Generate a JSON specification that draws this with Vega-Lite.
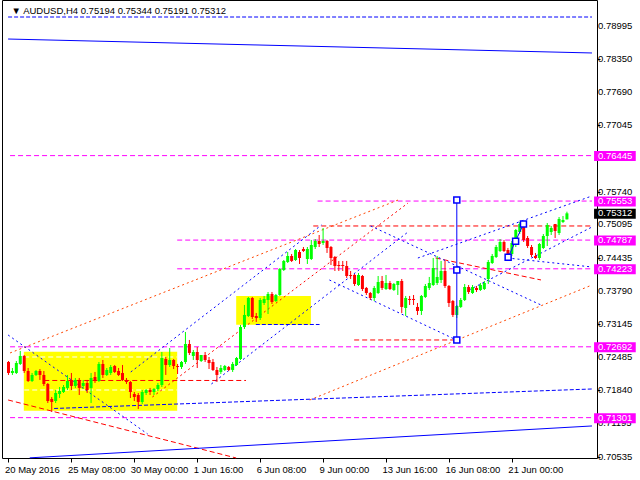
{
"$schema": "https://vega.github.io/schema/vega-lite/v6.json",
"autosize": {"type": "none"},
"width": 595, "height": 458,
"padding": {"left": 2, "top": 0, "right": 43, "bottom": 22},
"background": "white",
"config": {
 "view": {"stroke": "black", "strokeWidth": 1},
 "font": "Liberation Sans",
 "axisX": {"title": null, "labelAlign": "left", "labelBaseline": "top", "labelPadding": 2, "labelOffset": -4, "tickSize": 4, "tickColor": "black", "domain": false, "grid": false, "labelFont": "Liberation Sans", "labelFontSize": 9.5, "labelColor": "black", "labelFlush": false, "labelOverlap": false, "labelBound": false},
 "axisY": {"title": null, "tickSize": 3, "tickColor": "black", "domain": false, "grid": false, "labels": false}
},
"datasets": {
"candles": [
{"i":0,"o":0.72394,"h":0.72413,"l":0.72139,"c":0.72178},
{"i":1,"o":0.72178,"h":0.72276,"l":0.72139,"c":0.72217},
{"i":2,"o":0.72178,"h":0.72413,"l":0.72158,"c":0.72374},
{"i":3,"o":0.72355,"h":0.72610,"l":0.72335,"c":0.72512},
{"i":4,"o":0.72512,"h":0.72531,"l":0.72178,"c":0.72217},
{"i":5,"o":0.72217,"h":0.72276,"l":0.72001,"c":0.72021},
{"i":6,"o":0.72021,"h":0.72178,"l":0.72001,"c":0.72139},
{"i":7,"o":0.72139,"h":0.72237,"l":0.72119,"c":0.72217},
{"i":8,"o":0.72217,"h":0.72256,"l":0.72041,"c":0.72139},
{"i":9,"o":0.72139,"h":0.72217,"l":0.71923,"c":0.71962},
{"i":10,"o":0.71962,"h":0.71982,"l":0.71589,"c":0.71628},
{"i":11,"o":0.71668,"h":0.71707,"l":0.71412,"c":0.71609},
{"i":12,"o":0.71628,"h":0.71844,"l":0.71589,"c":0.71785},
{"i":13,"o":0.71766,"h":0.71903,"l":0.71687,"c":0.71825},
{"i":14,"o":0.71805,"h":0.71942,"l":0.71785,"c":0.71903},
{"i":15,"o":0.71884,"h":0.72139,"l":0.71844,"c":0.72021},
{"i":16,"o":0.72021,"h":0.72178,"l":0.71844,"c":0.71923},
{"i":17,"o":0.71923,"h":0.72080,"l":0.71884,"c":0.72041},
{"i":18,"o":0.72041,"h":0.72080,"l":0.71746,"c":0.71884},
{"i":19,"o":0.71923,"h":0.72041,"l":0.71864,"c":0.71982},
{"i":20,"o":0.71982,"h":0.72041,"l":0.71785,"c":0.71844},
{"i":21,"o":0.71884,"h":0.72178,"l":0.71589,"c":0.72080},
{"i":22,"o":0.72099,"h":0.72198,"l":0.71982,"c":0.72021},
{"i":23,"o":0.72021,"h":0.72394,"l":0.72001,"c":0.72355},
{"i":24,"o":0.72355,"h":0.72433,"l":0.72080,"c":0.72139},
{"i":25,"o":0.72139,"h":0.72276,"l":0.72119,"c":0.72237},
{"i":26,"o":0.72178,"h":0.72335,"l":0.72139,"c":0.72296},
{"i":27,"o":0.72315,"h":0.72335,"l":0.72178,"c":0.72198},
{"i":28,"o":0.72217,"h":0.72276,"l":0.72119,"c":0.72139},
{"i":29,"o":0.72178,"h":0.72335,"l":0.72021,"c":0.72041},
{"i":30,"o":0.72041,"h":0.72080,"l":0.71962,"c":0.72001},
{"i":31,"o":0.72001,"h":0.72021,"l":0.71687,"c":0.71805},
{"i":32,"o":0.71766,"h":0.71805,"l":0.71628,"c":0.71707},
{"i":33,"o":0.71746,"h":0.71785,"l":0.71471,"c":0.71609},
{"i":34,"o":0.71609,"h":0.71844,"l":0.71570,"c":0.71805},
{"i":35,"o":0.71785,"h":0.71864,"l":0.71746,"c":0.71844},
{"i":36,"o":0.71844,"h":0.71884,"l":0.71746,"c":0.71805},
{"i":37,"o":0.71805,"h":0.71884,"l":0.71746,"c":0.71864},
{"i":38,"o":0.71864,"h":0.71982,"l":0.71825,"c":0.71942},
{"i":39,"o":0.71942,"h":0.72590,"l":0.71903,"c":0.72472},
{"i":40,"o":0.72453,"h":0.72492,"l":0.72139,"c":0.72335},
{"i":41,"o":0.72335,"h":0.72669,"l":0.72296,"c":0.72433},
{"i":42,"o":0.72433,"h":0.72453,"l":0.72256,"c":0.72315},
{"i":43,"o":0.72315,"h":0.72355,"l":0.72158,"c":0.72296},
{"i":44,"o":0.72296,"h":0.72413,"l":0.72256,"c":0.72394},
{"i":45,"o":0.72394,"h":0.72983,"l":0.72355,"c":0.72747},
{"i":46,"o":0.72747,"h":0.72826,"l":0.72531,"c":0.72571},
{"i":47,"o":0.72512,"h":0.72629,"l":0.72433,"c":0.72590},
{"i":48,"o":0.72590,"h":0.72688,"l":0.72276,"c":0.72433},
{"i":49,"o":0.72413,"h":0.72531,"l":0.72394,"c":0.72531},
{"i":50,"o":0.72531,"h":0.72590,"l":0.72394,"c":0.72433},
{"i":51,"o":0.72433,"h":0.72492,"l":0.72256,"c":0.72374},
{"i":52,"o":0.72394,"h":0.72453,"l":0.72217,"c":0.72237},
{"i":53,"o":0.72237,"h":0.72296,"l":0.72001,"c":0.72139},
{"i":54,"o":0.72198,"h":0.72335,"l":0.72158,"c":0.72276},
{"i":55,"o":0.72237,"h":0.72335,"l":0.72217,"c":0.72315},
{"i":56,"o":0.72296,"h":0.72315,"l":0.72217,"c":0.72237},
{"i":57,"o":0.72237,"h":0.72394,"l":0.72198,"c":0.72355},
{"i":58,"o":0.72335,"h":0.72492,"l":0.72315,"c":0.72472},
{"i":59,"o":0.72453,"h":0.73120,"l":0.72433,"c":0.73081},
{"i":60,"o":0.73081,"h":0.73513,"l":0.73042,"c":0.73317},
{"i":61,"o":0.73297,"h":0.73670,"l":0.73277,"c":0.73650},
{"i":62,"o":0.73650,"h":0.73670,"l":0.73238,"c":0.73277},
{"i":63,"o":0.73297,"h":0.73356,"l":0.73179,"c":0.73258},
{"i":64,"o":0.73258,"h":0.73650,"l":0.73218,"c":0.73611},
{"i":65,"o":0.73552,"h":0.73690,"l":0.73513,"c":0.73631},
{"i":66,"o":0.73611,"h":0.73768,"l":0.73336,"c":0.73729},
{"i":67,"o":0.73729,"h":0.73768,"l":0.73532,"c":0.73572},
{"i":68,"o":0.73591,"h":0.73729,"l":0.73572,"c":0.73709},
{"i":69,"o":0.73709,"h":0.74239,"l":0.73690,"c":0.74220},
{"i":70,"o":0.74200,"h":0.74396,"l":0.74180,"c":0.74377},
{"i":71,"o":0.74357,"h":0.74553,"l":0.74337,"c":0.74475},
{"i":72,"o":0.74475,"h":0.74514,"l":0.74357,"c":0.74377},
{"i":73,"o":0.74396,"h":0.74612,"l":0.74377,"c":0.74592},
{"i":74,"o":0.74553,"h":0.74592,"l":0.74318,"c":0.74435},
{"i":75,"o":0.74612,"h":0.74651,"l":0.74553,"c":0.74573},
{"i":76,"o":0.74416,"h":0.74651,"l":0.74318,"c":0.74612},
{"i":77,"o":0.74416,"h":0.74789,"l":0.74396,"c":0.74691},
{"i":78,"o":0.74651,"h":0.74808,"l":0.74612,"c":0.74769},
{"i":79,"o":0.74769,"h":0.74887,"l":0.74651,"c":0.74710},
{"i":80,"o":0.74730,"h":0.75024,"l":0.74691,"c":0.74769},
{"i":81,"o":0.74769,"h":0.74789,"l":0.74534,"c":0.74632},
{"i":82,"o":0.74651,"h":0.74671,"l":0.74298,"c":0.74435},
{"i":83,"o":0.74455,"h":0.74475,"l":0.74180,"c":0.74278},
{"i":84,"o":0.74298,"h":0.74377,"l":0.74180,"c":0.74278},
{"i":85,"o":0.74298,"h":0.74377,"l":0.74180,"c":0.74278},
{"i":86,"o":0.74278,"h":0.74377,"l":0.74043,"c":0.74082},
{"i":87,"o":0.74102,"h":0.74180,"l":0.74023,"c":0.74082},
{"i":88,"o":0.74102,"h":0.74121,"l":0.73886,"c":0.73925},
{"i":89,"o":0.73905,"h":0.74141,"l":0.73886,"c":0.74102},
{"i":90,"o":0.74082,"h":0.74102,"l":0.73788,"c":0.73827},
{"i":91,"o":0.73847,"h":0.73866,"l":0.73709,"c":0.73748},
{"i":92,"o":0.73748,"h":0.73768,"l":0.73611,"c":0.73650},
{"i":93,"o":0.73650,"h":0.73886,"l":0.73591,"c":0.73847},
{"i":94,"o":0.73748,"h":0.74082,"l":0.73729,"c":0.73964},
{"i":95,"o":0.73984,"h":0.74082,"l":0.73807,"c":0.73847},
{"i":96,"o":0.73827,"h":0.74102,"l":0.73807,"c":0.73945},
{"i":97,"o":0.73945,"h":0.73984,"l":0.73807,"c":0.73827},
{"i":98,"o":0.73807,"h":0.73945,"l":0.73788,"c":0.73925},
{"i":99,"o":0.73905,"h":0.73984,"l":0.73709,"c":0.73984},
{"i":100,"o":0.73984,"h":0.74023,"l":0.73356,"c":0.73474},
{"i":101,"o":0.73454,"h":0.73690,"l":0.73297,"c":0.73650},
{"i":102,"o":0.73631,"h":0.73690,"l":0.73513,"c":0.73611},
{"i":103,"o":0.73631,"h":0.73709,"l":0.73513,"c":0.73611},
{"i":104,"o":0.73474,"h":0.73552,"l":0.73317,"c":0.73395},
{"i":105,"o":0.73395,"h":0.73709,"l":0.73317,"c":0.73690},
{"i":106,"o":0.73670,"h":0.73925,"l":0.73650,"c":0.73886},
{"i":107,"o":0.73847,"h":0.74063,"l":0.73807,"c":0.73945},
{"i":108,"o":0.73905,"h":0.74435,"l":0.73886,"c":0.74239},
{"i":109,"o":0.73945,"h":0.74475,"l":0.73905,"c":0.74063},
{"i":110,"o":0.74004,"h":0.74377,"l":0.73945,"c":0.74180},
{"i":111,"o":0.74180,"h":0.74377,"l":0.73847,"c":0.73886},
{"i":112,"o":0.73886,"h":0.73905,"l":0.73474,"c":0.73552},
{"i":113,"o":0.73591,"h":0.73611,"l":0.73277,"c":0.73317},
{"i":114,"o":0.73317,"h":0.73513,"l":0.73258,"c":0.73493},
{"i":115,"o":0.73474,"h":0.73650,"l":0.73454,"c":0.73611},
{"i":116,"o":0.73611,"h":0.73925,"l":0.73591,"c":0.73866},
{"i":117,"o":0.73866,"h":0.73905,"l":0.73729,"c":0.73768},
{"i":118,"o":0.73748,"h":0.73905,"l":0.73729,"c":0.73866},
{"i":119,"o":0.73847,"h":0.73886,"l":0.73768,"c":0.73807},
{"i":120,"o":0.73807,"h":0.73945,"l":0.73788,"c":0.73905},
{"i":121,"o":0.73827,"h":0.73984,"l":0.73807,"c":0.73945},
{"i":122,"o":0.74023,"h":0.74396,"l":0.73925,"c":0.74357},
{"i":123,"o":0.74337,"h":0.74514,"l":0.74318,"c":0.74475},
{"i":124,"o":0.74455,"h":0.74691,"l":0.74435,"c":0.74651},
{"i":125,"o":0.74573,"h":0.74808,"l":0.74553,"c":0.74749},
{"i":126,"o":0.74749,"h":0.74789,"l":0.74553,"c":0.74573},
{"i":127,"o":0.74592,"h":0.74632,"l":0.74475,"c":0.74494},
{"i":128,"o":0.74514,"h":0.74769,"l":0.74475,"c":0.74730},
{"i":129,"o":0.74691,"h":0.75005,"l":0.74651,"c":0.74985},
{"i":130,"o":0.74946,"h":0.75142,"l":0.74906,"c":0.75103},
{"i":131,"o":0.75064,"h":0.75142,"l":0.74749,"c":0.74789},
{"i":132,"o":0.74828,"h":0.74867,"l":0.74632,"c":0.74671},
{"i":133,"o":0.74651,"h":0.74691,"l":0.74455,"c":0.74494},
{"i":134,"o":0.74475,"h":0.74534,"l":0.74416,"c":0.74435},
{"i":135,"o":0.74435,"h":0.74730,"l":0.74396,"c":0.74710},
{"i":136,"o":0.74632,"h":0.74906,"l":0.74612,"c":0.74867},
{"i":137,"o":0.74867,"h":0.75122,"l":0.74671,"c":0.75083},
{"i":138,"o":0.74946,"h":0.75064,"l":0.74887,"c":0.75024},
{"i":139,"o":0.75103,"h":0.75103,"l":0.74828,"c":0.74965},
{"i":140,"o":0.74926,"h":0.75240,"l":0.74887,"c":0.75201},
{"i":141,"o":0.75142,"h":0.75260,"l":0.75122,"c":0.75181},
{"i":142,"o":0.75194,"h":0.75344,"l":0.75191,"c":0.75312}
],
"rects": [
{"i0":3.9,"p0":0.72596,"i1":42.9,"p1":0.71438},
{"i0":57.9,"p0":0.7369,"i1":76.9,"p1":0.73126}
],
"segs": [
{"k":"white","i0":4.0,"p0":0.72492,"i1":42.8,"p1":0.72492},
{"k":"white","i0":4.0,"p0":0.71844,"i1":42.8,"p1":0.71844},
{"k":"mag","i0":0.4,"p0":0.76445,"i1":148.375,"p1":0.76445},
{"k":"mag","i0":78.6,"p0":0.75553,"i1":148.375,"p1":0.75553},
{"k":"mag","i0":42.9,"p0":0.74787,"i1":148.375,"p1":0.74787},
{"k":"mag","i0":42.9,"p0":0.74223,"i1":148.375,"p1":0.74223},
{"k":"mag","i0":0.4,"p0":0.72692,"i1":148.375,"p1":0.72692},
{"k":"mag","i0":0.4,"p0":0.71301,"i1":148.375,"p1":0.71301},
{"k":"red","i0":77.5,"p0":0.75064,"i1":148.375,"p1":0.75064},
{"k":"red","i0":87.9,"p0":0.72826,"i1":114.1,"p1":0.72826},
{"k":"red","i0":9.1,"p0":0.72031,"i1":60.4,"p1":0.72031},
{"k":"red","i0":-0.1,"p0":0.71648,"i1":57.9,"p1":0.70509},
{"k":"red","i0":108.6,"p0":0.74435,"i1":135.4,"p1":0.74004},
{"k":"redDot","i0":36.6,"p0":0.71707,"i1":101.6,"p1":0.75515},
{"k":"orange","i0":0.4,"p0":0.72571,"i1":99.1,"p1":0.75574},
{"k":"orange","i0":76.6,"p0":0.71648,"i1":148.375,"p1":0.73905},
{"k":"blueDash","i0":-0.1,"p0":0.79166,"i1":148.375,"p1":0.79166},
{"k":"blueDash","i0":62.9,"p0":0.7313,"i1":79.1,"p1":0.7313},
{"k":"blueDash","i0":11.6,"p0":0.71481,"i1":148.375,"p1":0.71864},
{"k":"blueDot","i0":-0.1,"p0":0.72924,"i1":35.4,"p1":0.70979},
{"k":"blueDot","i0":31.1,"p0":0.72198,"i1":79.6,"p1":0.75083},
{"k":"blueDot","i0":51.6,"p0":0.71962,"i1":101.6,"p1":0.74946},
{"k":"blueDot","i0":92.1,"p0":0.75064,"i1":135.4,"p1":0.73513},
{"k":"blueDot","i0":81.6,"p0":0.74004,"i1":113.9,"p1":0.72826},
{"k":"blueDot","i0":104.1,"p0":0.74435,"i1":148.375,"p1":0.75653},
{"k":"blueDot","i0":117.1,"p0":0.73807,"i1":148.375,"p1":0.75044},
{"k":"blueDot","i0":126.9,"p0":0.74435,"i1":148.375,"p1":0.74259},
{"k":"blueSolid","i0":-0.1,"p0":0.78734,"i1":148.375,"p1":0.7846},
{"k":"blueSolid","i0":5.4,"p0":0.70512,"i1":148.375,"p1":0.71138},
{"k":"blueSolid","i0":114,"p0":0.75574,"i1":114,"p1":0.72826},
{"k":"blueSolid","i0":127.05,"p0":0.74449,"i1":130.95,"p1":0.75103}
],
"squares": [
{"i":114,"p":0.75574},{"i":114,"p":0.742},{"i":114,"p":0.72826},
{"i":127.05,"p":0.74449},{"i":128.95,"p":0.74763},{"i":130.95,"p":0.75103}
],
"yticks": [
{"p":0.70535},{"p":0.71195},{"p":0.7184},{"p":0.72485},{"p":0.73145},{"p":0.7379},{"p":0.74435},
{"p":0.75095},{"p":0.7574},{"p":0.7639},{"p":0.77045},{"p":0.7769},{"p":0.7835},{"p":0.78995}
],
"badges": [
{"p":0.76445,"t":"level"},{"p":0.75553,"t":"level"},{"p":0.75312,"t":"bid"},
{"p":0.74787,"t":"level"},{"p":0.74223,"t":"level"},{"p":0.72692,"t":"level"},{"p":0.71301,"t":"level"}
],
"head": [
{"label":"▼ AUDUSD,H4  0.75194 0.75344 0.75191 0.75312","i":0.8,"p":0.79225}
]
},
"layer": [
{"data": {"name": "rects"}, "mark": {"type": "rect", "color": "#ffff00"},
 "encoding": {
  "x": {"field": "i0", "type": "quantitative", "scale": {"domain": [-0.375, 148.375], "nice": false, "zero": false},
        "axis": {"values": [0,16,32,48,64,80,96,112,128], "labelExpr": "['20 May 2016','25 May 08:00','30 May 00:00','1 Jun 16:00','6 Jun 08:00','9 Jun 00:00','13 Jun 16:00','16 Jun 08:00','21 Jun 00:00'][round(datum.value/16)]"}},
  "x2": {"field": "i1"},
  "y": {"field": "p0", "type": "quantitative", "scale": {"domain": [0.70509, 0.795], "nice": false, "zero": false},
        "axis": {"orient": "right", "values": [0.70535,0.71195,0.7184,0.72485,0.73145,0.7379,0.74435,0.75095,0.7574,0.7639,0.77045,0.7769,0.7835,0.78995], "labels": false}},
  "y2": {"field": "p1"}
 }},
{"data": {"name": "segs"}, "transform": [{"filter": "datum.k == 'white'"}], "mark": {"type": "rule", "color": "white", "strokeWidth": 1, "strokeDash": [5, 3]},
 "encoding": {"x": {"field": "i0", "type": "quantitative"}, "x2": {"field": "i1"}, "y": {"field": "p0", "type": "quantitative"}, "y2": {"field": "p1"}}},
{"data": {"name": "segs"}, "transform": [{"filter": "datum.k == 'mag'"}], "mark": {"type": "rule", "color": "#ff00ff", "strokeWidth": 1, "strokeDash": [5, 3]},
 "encoding": {"x": {"field": "i0", "type": "quantitative"}, "x2": {"field": "i1"}, "y": {"field": "p0", "type": "quantitative"}, "y2": {"field": "p1"}}},
{"data": {"name": "segs"}, "transform": [{"filter": "datum.k == 'red'"}], "mark": {"type": "rule", "color": "#ff0000", "strokeWidth": 1, "strokeDash": [5, 3]},
 "encoding": {"x": {"field": "i0", "type": "quantitative"}, "x2": {"field": "i1"}, "y": {"field": "p0", "type": "quantitative"}, "y2": {"field": "p1"}}},
{"data": {"name": "segs"}, "transform": [{"filter": "datum.k == 'redDot'"}], "mark": {"type": "rule", "color": "#ff0000", "strokeWidth": 1, "strokeDash": [2, 3]},
 "encoding": {"x": {"field": "i0", "type": "quantitative"}, "x2": {"field": "i1"}, "y": {"field": "p0", "type": "quantitative"}, "y2": {"field": "p1"}}},
{"data": {"name": "segs"}, "transform": [{"filter": "datum.k == 'orange'"}], "mark": {"type": "rule", "color": "#ff4500", "strokeWidth": 1, "strokeDash": [2, 3]},
 "encoding": {"x": {"field": "i0", "type": "quantitative"}, "x2": {"field": "i1"}, "y": {"field": "p0", "type": "quantitative"}, "y2": {"field": "p1"}}},
{"data": {"name": "segs"}, "transform": [{"filter": "datum.k == 'blueDash'"}], "mark": {"type": "rule", "color": "#0000ff", "strokeWidth": 1, "strokeDash": [4, 2]},
 "encoding": {"x": {"field": "i0", "type": "quantitative"}, "x2": {"field": "i1"}, "y": {"field": "p0", "type": "quantitative"}, "y2": {"field": "p1"}}},
{"data": {"name": "segs"}, "transform": [{"filter": "datum.k == 'blueDot'"}], "mark": {"type": "rule", "color": "#0000ff", "strokeWidth": 1, "strokeDash": [2, 3]},
 "encoding": {"x": {"field": "i0", "type": "quantitative"}, "x2": {"field": "i1"}, "y": {"field": "p0", "type": "quantitative"}, "y2": {"field": "p1"}}},
{"data": {"name": "candles"}, "mark": {"type": "rule", "strokeWidth": 1},
 "encoding": {"x": {"field": "i", "type": "quantitative"}, "y": {"field": "l", "type": "quantitative"}, "y2": {"field": "h"},
  "color": {"condition": {"test": "datum.c >= datum.o", "value": "#00ff00"}, "value": "#ff0000"}}},
{"data": {"name": "candles"}, "mark": {"type": "bar", "size": 3},
 "encoding": {"x": {"field": "i", "type": "quantitative"}, "y": {"field": "o", "type": "quantitative"}, "y2": {"field": "c"},
  "color": {"condition": {"test": "datum.c >= datum.o", "value": "#00ff00"}, "value": "#ff0000"}}},
{"data": {"name": "segs"}, "transform": [{"filter": "datum.k == 'blueSolid'"}], "mark": {"type": "rule", "color": "#0000ff", "strokeWidth": 1},
 "encoding": {"x": {"field": "i0", "type": "quantitative"}, "x2": {"field": "i1"}, "y": {"field": "p0", "type": "quantitative"}, "y2": {"field": "p1"}}},
{"data": {"name": "squares"}, "mark": {"type": "point", "shape": "square", "size": 36, "filled": true, "fill": "white", "stroke": "#0000ff", "strokeWidth": 1.5, "opacity": 1},
 "encoding": {"x": {"field": "i", "type": "quantitative"}, "y": {"field": "p", "type": "quantitative"}}},
{"data": {"name": "yticks"}, "mark": {"type": "text", "align": "left", "baseline": "middle", "font": "Liberation Sans", "fontSize": 9.5, "color": "black"},
 "encoding": {"x": {"datum": 149.9, "type": "quantitative"}, "y": {"field": "p", "type": "quantitative"}, "text": {"field": "p", "type": "quantitative", "format": ".5f"}}},
{"data": {"name": "badges"}, "mark": {"type": "rect", "yOffset": -4.5, "y2Offset": 5.5},
 "encoding": {"x": {"datum": 148.9, "type": "quantitative"}, "x2": {"datum": 159.5}, "y": {"field": "p", "type": "quantitative"}, "y2": {"field": "p"},
  "color": {"condition": {"test": "datum.t == 'bid'", "value": "black"}, "value": "#ff00ff"}}},
{"data": {"name": "badges"}, "mark": {"type": "text", "align": "left", "baseline": "middle", "font": "Liberation Sans", "fontSize": 9.5, "color": "white"},
 "encoding": {"x": {"datum": 149.9, "type": "quantitative"}, "y": {"field": "p", "type": "quantitative"}, "text": {"field": "p", "type": "quantitative", "format": ".5f"}}},
{"data": {"name": "head"}, "mark": {"type": "text", "align": "left", "baseline": "alphabetic", "font": "Liberation Sans", "fontSize": 9.5, "color": "black"},
 "encoding": {"x": {"field": "i", "type": "quantitative"}, "y": {"field": "p", "type": "quantitative"}, "text": {"field": "label"}}}
]
}
